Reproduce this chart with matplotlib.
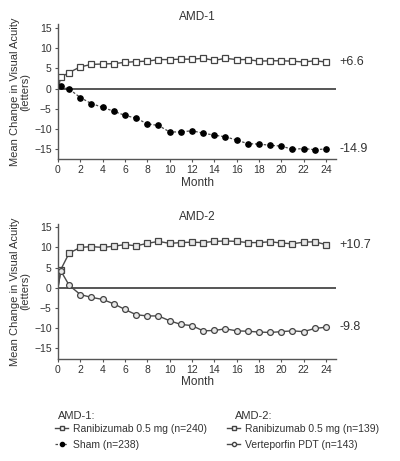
import matplotlib
matplotlib.use("Agg")
import matplotlib.pyplot as plt
from matplotlib.lines import Line2D
import numpy as np

plt.rcParams['font.family'] = ['Liberation Sans', 'DejaVu Sans']

months = [0, 0.25] + list(range(1, 25))

# AMD-1
amd1_ranib = [0, 2.8, 4.0, 5.4, 6.0, 6.1, 6.2, 6.5, 6.7, 6.8, 7.2, 7.2, 7.3, 7.3,
              7.5, 7.0, 7.5, 7.2, 7.2, 6.8, 6.9, 6.9, 6.8, 6.6, 6.9, 6.6]
amd1_sham = [0, 0.6, -0.1, -2.2, -3.7, -4.6, -5.6, -6.6, -7.3, -8.7, -9.1, -10.7,
             -10.7, -10.4, -11.0, -11.5, -11.9, -12.7, -13.6, -13.7, -14.0, -14.2,
             -15.0, -14.8, -15.1, -14.9]

# AMD-2
amd2_ranib = [0, 4.5, 8.6, 10.0, 10.2, 10.0, 10.3, 10.7, 10.4, 11.0, 11.5, 11.0,
              11.2, 11.3, 11.2, 11.5, 11.6, 11.5, 11.2, 11.2, 11.4, 11.1, 10.9,
              11.3, 11.4, 10.7]
amd2_pdt = [0, 4.2, 0.6, -1.7, -2.4, -2.9, -4.0, -5.4, -6.7, -7.0, -7.0, -8.2,
            -9.1, -9.4, -10.7, -10.6, -10.2, -10.7, -10.8, -11.0, -11.1, -10.9,
            -10.7, -10.9, -10.1, -9.8]

yticks = [-15, -10, -5, 0, 5, 10, 15]
xticks = list(range(0, 25, 2))

line_c = '#4a4a4a'
text_c = '#333333'

fig = plt.figure(figsize=(4.0, 4.61), dpi=100)
ax1 = fig.add_axes([0.145, 0.655, 0.695, 0.293])
ax2 = fig.add_axes([0.145, 0.222, 0.695, 0.292])


def style_axis(ax, title, ylim):
    ax.axhline(0, color='#555555', lw=1.4, zorder=1)
    ax.set_xlim(0, 24.9)
    ax.set_ylim(*ylim)
    ax.set_xticks(xticks)
    ax.set_yticks(yticks)
    ax.spines['top'].set_visible(False)
    ax.spines['right'].set_visible(False)
    for s in ['left', 'bottom']:
        ax.spines[s].set_color('#555555')
        ax.spines[s].set_linewidth(1.0)
    ax.tick_params(axis='both', labelsize=7.5, colors='#555555', labelcolor=text_c,
                   length=2.5, width=0.8, pad=2)
    ax.set_title(title, fontsize=8.5, color=text_c, pad=3)
    ax.set_xlabel('Month', fontsize=8.5, color=text_c, labelpad=1)
    ax.set_ylabel('Mean Change in Visual Acuity\n(letters)', fontsize=8,
                  color=text_c, labelpad=3, linespacing=1.0)


style_axis(ax1, 'AMD-1', (-17.4, 16))
ax1.plot(months, amd1_ranib, color=line_c, lw=1.0, marker='s', ms=4.2,
         mfc='white', mec='#444444', mew=0.9, markevery=list(range(1, len(months))))
ax1.plot(months, amd1_sham, color=line_c, lw=0.9, ls=(0, (2, 1.5)), marker='o', ms=3.8,
         mfc='black', mec='black', markevery=list(range(1, len(months))))
ax1.text(25.2, amd1_ranib[-1], '+6.6', fontsize=9, color=text_c, va='center',
         clip_on=False)
ax1.text(25.2, amd1_sham[-1], '-14.9', fontsize=9, color=text_c, va='center',
         clip_on=False)

style_axis(ax2, 'AMD-2', (-17.6, 15.8))
ax2.plot(months, amd2_ranib, color=line_c, lw=1.0, marker='s', ms=4.2,
         mfc='#e8e8e8', mec='#444444', mew=0.9, markevery=list(range(1, len(months))))
ax2.plot(months, amd2_pdt, color=line_c, lw=1.0, marker='o', ms=4.2,
         mfc='#e8e8e8', mec='#444444', mew=0.9, markevery=list(range(1, len(months))))
ax2.text(25.2, amd2_ranib[-1], '+10.7', fontsize=9, color=text_c, va='center',
         clip_on=False)
ax2.text(25.2, amd2_pdt[-1], '-9.8', fontsize=9, color=text_c, va='center',
         clip_on=False)

# legend block
fig.text(58 / 400, 1 - 416 / 461, 'AMD-1:', fontsize=8, color=text_c, va='center')
fig.text(235 / 400, 1 - 416 / 461, 'AMD-2:', fontsize=8, color=text_c, va='center')

h1 = Line2D([], [], color=line_c, lw=1.0, marker='s', ms=3, mfc='white', mec='#444444')
h2 = Line2D([], [], color=line_c, lw=0.9, ls=(0, (2, 1.5)), marker='o', ms=3,
            mfc='black', mec='black')
h3 = Line2D([], [], color=line_c, lw=1.0, marker='s', ms=3, mfc='white', mec='#444444')
h4 = Line2D([], [], color=line_c, lw=1.0, marker='o', ms=3, mfc='white', mec='#444444')

leg_kw = dict(loc='upper left', frameon=False, fontsize=7.5, handlelength=1.3,
              handletextpad=0.45, labelspacing=0.55, borderpad=0, borderaxespad=0)
leg1 = fig.legend([h1, h2], ['Ranibizumab 0.5 mg (n=240)', 'Sham (n=238)'],
                  bbox_to_anchor=(0.137, 1 - 424 / 461), **leg_kw)
for t in leg1.get_texts():
    t.set_color(text_c)
leg2 = fig.legend([h3, h4], ['Ranibizumab 0.5 mg (n=139)', 'Verteporfin PDT (n=143)'],
                  bbox_to_anchor=(0.567, 1 - 424 / 461), **leg_kw)
for t in leg2.get_texts():
    t.set_color(text_c)

fig.savefig('out.png', dpi=100)
